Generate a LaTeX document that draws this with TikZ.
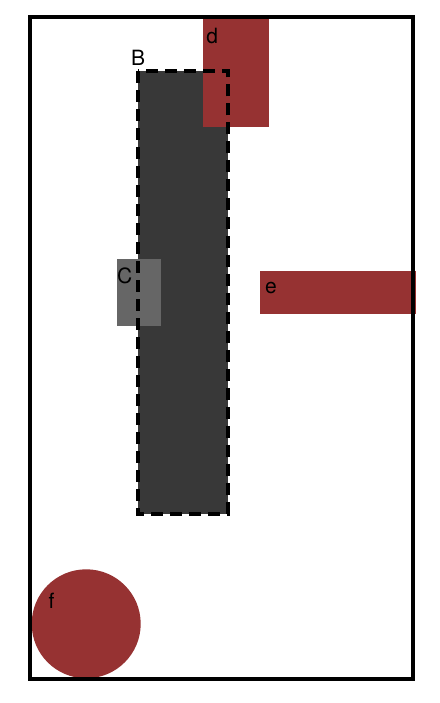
\documentclass[tikz,border=0pt]{standalone}
\usepackage{fontspec}
\setmainfont{TeX Gyre Heros}
\usepackage{xcolor}
\usetikzlibrary{positioning}

\definecolor{boxred}{HTML}{963232}
\definecolor{boxdark}{HTML}{383838}
\definecolor{boxgrey}{HTML}{666666}

\begin{document}
\begin{tikzpicture}[x=1pt, y=-1pt,
        blk/.style={rectangle, inner sep=0pt, outer sep=0pt, anchor=north west},
        lbl/.style={inner sep=0pt, outer sep=0pt, font=\fontsize{21}{25}\selectfont},
        dashborder/.style={draw=black, line width=4pt, dash pattern=on 12pt off 7pt}]
        \useasboundingbox[fill=white] (0,0) rectangle (439,703);

        \node[blk, fill=boxdark, minimum width=89.7pt, minimum height=442.7pt] (B) at (138,71.3) {};
        \node[blk, fill=boxgrey, minimum width=44pt, minimum height=66.7pt] (C) at (116.7,259.3) {};
        \node[blk, fill=boxred, minimum width=66pt, minimum height=110pt] (d) at (203,17) {};
        %\node[blk, fill=boxred] (d) [right=of B.north east] {};
        \draw[dashborder] (B.north west) rectangle (B.south east);
        \node[blk, fill=boxred, minimum width=155.5pt, minimum height=43.6pt] (e) at (260,270.7) {};
        \node[circle, fill=boxred, inner sep=0pt, minimum size=109pt] (f) at (86.2,623.8) {};

        \node[lbl, above right=5.6pt and -7pt of B.north west] (Blbl) {B};
        \node[lbl, below right=9pt and 0.5pt of C.north west] (Clbl) {C};
        \node[lbl, below right=11.3pt and 3.4pt of d.north west] (dlbl) {d};
        \node[lbl, below right=11pt and 5pt of e.north west] (elbl) {e};
        \node[lbl, above left=30.5pt and 37.6pt of f.center, anchor=north west] (flbl) {f};

        \node[blk, draw=black, line width=4.3pt, minimum width=382.7pt, minimum height=661.7pt] (frame) at (30.3,17) {};
    \end{tikzpicture}
\end{document}
